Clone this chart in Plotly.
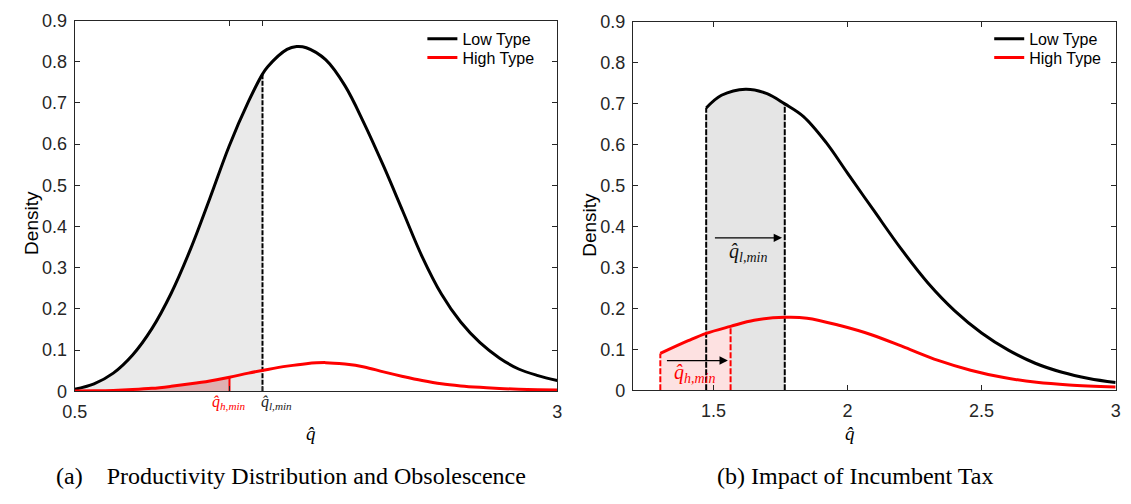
import plotly.graph_objects as go

# ---------------- data ----------------
# Panel (a)
low_x_a = [0.5, 0.6, 0.7, 0.8, 0.9, 1.0, 1.1, 1.2, 1.3, 1.4, 1.473, 1.5, 1.6, 1.65, 1.7, 1.8,
           1.9, 2.0, 2.1, 2.2, 2.3, 2.4, 2.5, 2.6, 2.7, 2.8, 2.9, 3.0]
low_y_a = [0.005, 0.018, 0.044, 0.088, 0.152, 0.238, 0.345, 0.468, 0.595, 0.703, 0.770, 0.788,
           0.830, 0.837, 0.834, 0.805, 0.742, 0.650, 0.547, 0.437, 0.327, 0.236, 0.168, 0.118,
           0.081, 0.054, 0.038, 0.026]
high_x_a = [0.5, 0.6, 0.7, 0.8, 0.9, 1.0, 1.1, 1.2, 1.302, 1.4, 1.5, 1.6, 1.7, 1.8, 1.9, 2.0,
            2.1, 2.2, 2.3, 2.4, 2.5, 2.6, 2.7, 2.8, 2.9, 3.0]
high_y_a = [0.0005, 0.001, 0.002, 0.004, 0.007, 0.012, 0.018, 0.025, 0.034, 0.044, 0.053, 0.061,
            0.067, 0.0695, 0.066, 0.059, 0.047, 0.036, 0.026, 0.018, 0.013, 0.0095, 0.0068,
            0.005, 0.0038, 0.003]
qh_a = 1.302   # q_h,min
ql_a = 1.473   # q_l,min

# Panel (b)
low_x_b = [1.473, 1.53, 1.62, 1.70, 1.766, 1.836, 1.92, 2.0, 2.1, 2.2, 2.3, 2.4, 2.5, 2.6,
           2.7, 2.8, 2.9, 3.0]
low_y_b = [0.689, 0.720, 0.735, 0.724, 0.699, 0.668, 0.605, 0.530, 0.437, 0.345, 0.262, 0.194,
           0.140, 0.098, 0.066, 0.044, 0.029, 0.019]
high_x_b = [1.302, 1.406, 1.473, 1.564, 1.652, 1.766, 1.849, 1.972, 2.092, 2.216, 2.338, 2.459,
            2.583, 2.705, 2.826, 3.0]
high_y_b = [0.090, 0.121, 0.139, 0.156, 0.171, 0.178, 0.176, 0.158, 0.135, 0.104, 0.073, 0.049,
            0.031, 0.0195, 0.013, 0.008]
ql_b = [1.473, 1.766]   # old / new q_l,min
qh_b = [1.302, 1.564]   # old / new q_h,min

y_ticks = [0, 0.1, 0.2, 0.3, 0.4, 0.5, 0.6, 0.7, 0.8, 0.9]
y_tick_text = ["0", "0.1", "0.2", "0.3", "0.4", "0.5", "0.6", "0.7", "0.8", "0.9"]
x_ticks_a = [0.5, qh_a, ql_a, 3]
x_tick_text_a = ["0.5", "", "", "3"]
x_ticks_b = [1.5, 2, 2.5, 3]
x_tick_text_b = ["1.5", "2", "2.5", "3"]
series_names = ["Low Type", "High Type"]

ql_label = "<i>q̂</i><sub><i>l,min</i></sub>"
qh_label = "<i>q̂</i><sub><i>h,min</i></sub>"

# ---------------- helpers ----------------
def interp(xs, ys, xv):
    for i in range(len(xs) - 1):
        if xs[i] <= xv <= xs[i + 1]:
            t = (xv - xs[i]) / (xs[i + 1] - xs[i])
            return ys[i] + t * (ys[i + 1] - ys[i])
    return ys[-1]

def subset(xs, ys, lo, hi):
    px = [x for x in xs if lo <= x <= hi]
    py = [y for x, y in zip(xs, ys) if lo <= x <= hi]
    return px, py

BLACK = "#000000"
RED = "#ff0000"
AX = "#262626"
SANS = "Liberation Sans, Arial, sans-serif"
SERIF = "Liberation Serif, DejaVu Serif, serif"

fig = go.Figure()

# ---------------- panel (a) ----------------
gx, gy = subset(low_x_a, low_y_a, 0.5, ql_a)
fig.add_trace(go.Scatter(x=gx, y=gy, mode="lines", line=dict(width=0, shape="spline"),
                         fill="tozeroy", fillcolor="#eaeaea", showlegend=False, hoverinfo="skip",
                         xaxis="x", yaxis="y"))
rx, ry = subset(high_x_a, high_y_a, 0.5, qh_a)
fig.add_trace(go.Scatter(x=rx, y=ry, mode="lines", line=dict(width=0, shape="spline"),
                         fill="tozeroy", fillcolor="#dfb0b1", showlegend=False, hoverinfo="skip",
                         xaxis="x", yaxis="y"))
fig.add_trace(go.Scatter(x=[ql_a, ql_a], y=[0, interp(low_x_a, low_y_a, ql_a)], mode="lines",
                         line=dict(color=BLACK, width=2, dash="5px,1.5px"), showlegend=False,
                         xaxis="x", yaxis="y"))
fig.add_trace(go.Scatter(x=[qh_a, qh_a], y=[0, interp(high_x_a, high_y_a, qh_a)], mode="lines",
                         line=dict(color=RED, width=2), showlegend=False, xaxis="x", yaxis="y"))
fig.add_trace(go.Scatter(x=low_x_a, y=low_y_a, mode="lines", name=series_names[0],
                         line=dict(color=BLACK, width=3, shape="spline"), legend="legend",
                         xaxis="x", yaxis="y"))
fig.add_trace(go.Scatter(x=high_x_a, y=high_y_a, mode="lines", name=series_names[1],
                         line=dict(color=RED, width=3, shape="spline"), legend="legend3",
                         xaxis="x", yaxis="y"))

# ---------------- panel (b) ----------------
gx, gy = subset(low_x_b, low_y_b, ql_b[0], ql_b[1])
fig.add_trace(go.Scatter(x=gx, y=gy, mode="lines", line=dict(width=0, shape="spline"),
                         fill="tozeroy", fillcolor="#e5e5e5", showlegend=False, hoverinfo="skip",
                         xaxis="x2", yaxis="y2"))
rx, ry = subset(high_x_b, high_y_b, qh_b[0], qh_b[1])
fig.add_trace(go.Scatter(x=rx, y=ry, mode="lines", line=dict(width=0, shape="spline"),
                         fill="tozeroy", fillcolor="#fde1e1", showlegend=False, hoverinfo="skip",
                         xaxis="x2", yaxis="y2"))
for q in ql_b:
    fig.add_trace(go.Scatter(x=[q, q], y=[0, interp(low_x_b, low_y_b, q)], mode="lines",
                             line=dict(color=BLACK, width=2, dash="6px,1.5px"), showlegend=False,
                             xaxis="x2", yaxis="y2"))
for q in qh_b:
    fig.add_trace(go.Scatter(x=[q, q], y=[0, interp(high_x_b, high_y_b, q)], mode="lines",
                             line=dict(color=RED, width=2, dash="6px,2px"), showlegend=False,
                             xaxis="x2", yaxis="y2"))
fig.add_trace(go.Scatter(x=low_x_b, y=low_y_b, mode="lines", name=series_names[0],
                         line=dict(color=BLACK, width=3, shape="spline"), legend="legend2",
                         xaxis="x2", yaxis="y2"))
fig.add_trace(go.Scatter(x=high_x_b, y=high_y_b, mode="lines", name=series_names[1],
                         line=dict(color=RED, width=3, shape="spline"), legend="legend4",
                         xaxis="x2", yaxis="y2"))

# ---------------- axes ----------------
common = dict(showline=True, linecolor=AX, linewidth=1, mirror="ticks", ticks="inside",
              ticklen=5, tickcolor=AX, showgrid=False, zeroline=False,
              tickfont=dict(family=SANS, size=18, color=AX))

def leg(x, y):
    return dict(x=x, y=y, xanchor="left", yanchor="middle", bgcolor="rgba(0,0,0,0)",
                borderwidth=0, font=dict(family=SANS, size=16, color="#000"), itemwidth=30)

fig.update_layout(
    width=1131, height=504, margin=dict(l=0, r=0, t=0, b=0),
    paper_bgcolor="white", plot_bgcolor="white",
    xaxis=dict(domain=[0.05544, 0.48895], range=[0.5, 3], tickvals=x_ticks_a,
               ticktext=x_tick_text_a, ticklabelstandoff=4, anchor="y", **common),
    yaxis=dict(domain=[0.21230, 0.97817], range=[0, 0.9], tickvals=y_ticks, ticktext=y_tick_text,
               ticklabelstandoff=3, anchor="x", **common),
    xaxis2=dict(domain=[0.55703, 0.99071], range=[1.2, 3], tickvals=x_ticks_b,
                ticktext=x_tick_text_b, ticklabelstandoff=4, anchor="y2", **common),
    yaxis2=dict(domain=[0.21429, 0.97619], range=[0, 0.9], tickvals=y_ticks, ticktext=y_tick_text,
                ticklabelstandoff=3, anchor="x2", **common),
    legend=leg(416 / 1131, 1 - 30 / 504),
    legend3=leg(416 / 1131, 1 - 49.5 / 504),
    legend2=leg(992 / 1131, 1 - 30 / 504),
    legend4=leg(992 / 1131, 1 - 49.5 / 504),
)

C = dict(xanchor="center", yanchor="middle", showarrow=False)
ann = []
# threshold labels under the axis of panel (a)
ann.append(dict(x=qh_a, y=1 - 409 / 504, xref="x", yref="paper", text=qh_label,
                font=dict(family=SERIF, size=16, color=RED), **C))
ann.append(dict(x=ql_a, y=1 - 409 / 504, xref="x", yref="paper", text=ql_label, xshift=14,
                font=dict(family=SERIF, size=16, color="#222"), **C))
# arrows in panel (b)
ann.append(dict(x=ql_b[1] - 0.01, y=0.372, ax=ql_b[0] + 0.027, ay=0.372, xref="x2", yref="y2",
                axref="x2", ayref="y2", text="", showarrow=True, arrowhead=2, arrowsize=1.4,
                arrowwidth=1.2, arrowcolor=BLACK))
ann.append(dict(x=(ql_b[0] + ql_b[1]) / 2 + 0.01, y=0.336, xref="x2", yref="y2", text=ql_label,
                font=dict(family=SERIF, size=20, color="#111"), **C))
ann.append(dict(x=qh_b[1] - 0.01, y=0.0726, ax=qh_b[0] + 0.019, ay=0.0726, xref="x2", yref="y2",
                axref="x2", ayref="y2", text="", showarrow=True, arrowhead=2, arrowsize=1.4,
                arrowwidth=1.2, arrowcolor=BLACK))
ann.append(dict(x=(qh_b[0] + qh_b[1]) / 2, y=0.040, xref="x2", yref="y2", text=qh_label,
                font=dict(family=SERIF, size=20, color=RED), **C))
# axis titles
ann.append(dict(x=18 / 1131, y=1 - 222 / 504, xref="paper", yref="paper", text="Density",
                textangle=-90, font=dict(family=SANS, size=19, color="#000"), **C))
ann.append(dict(x=585 / 1131, y=1 - 224 / 504, xref="paper", yref="paper", text="Density",
                textangle=-90, font=dict(family=SANS, size=19, color="#000"), **C))
ann.append(dict(x=303 / 1131, y=1 - 441 / 504, xref="paper", yref="paper", text="<i>q̂</i>",
                font=dict(family=SERIF, size=19, color="#000"), **C))
ann.append(dict(x=851 / 1131, y=1 - 441 / 504, xref="paper", yref="paper", text="<i>q̂</i>",
                font=dict(family=SERIF, size=19, color="#000"), **C))
# captions
ann.append(dict(x=283 / 1131, y=1 - 485 / 504, xref="paper", yref="paper",
                text="(a)\u2003Productivity Distribution and Obsolescence",
                font=dict(family=SERIF, size=24, color="#000"), **C))
ann.append(dict(x=856 / 1131, y=1 - 485 / 504, xref="paper", yref="paper",
                text="(b) Impact of Incumbent Tax",
                font=dict(family=SERIF, size=24, color="#000"), **C))
fig.update_layout(annotations=ann)

fig.write_html("out.html")
